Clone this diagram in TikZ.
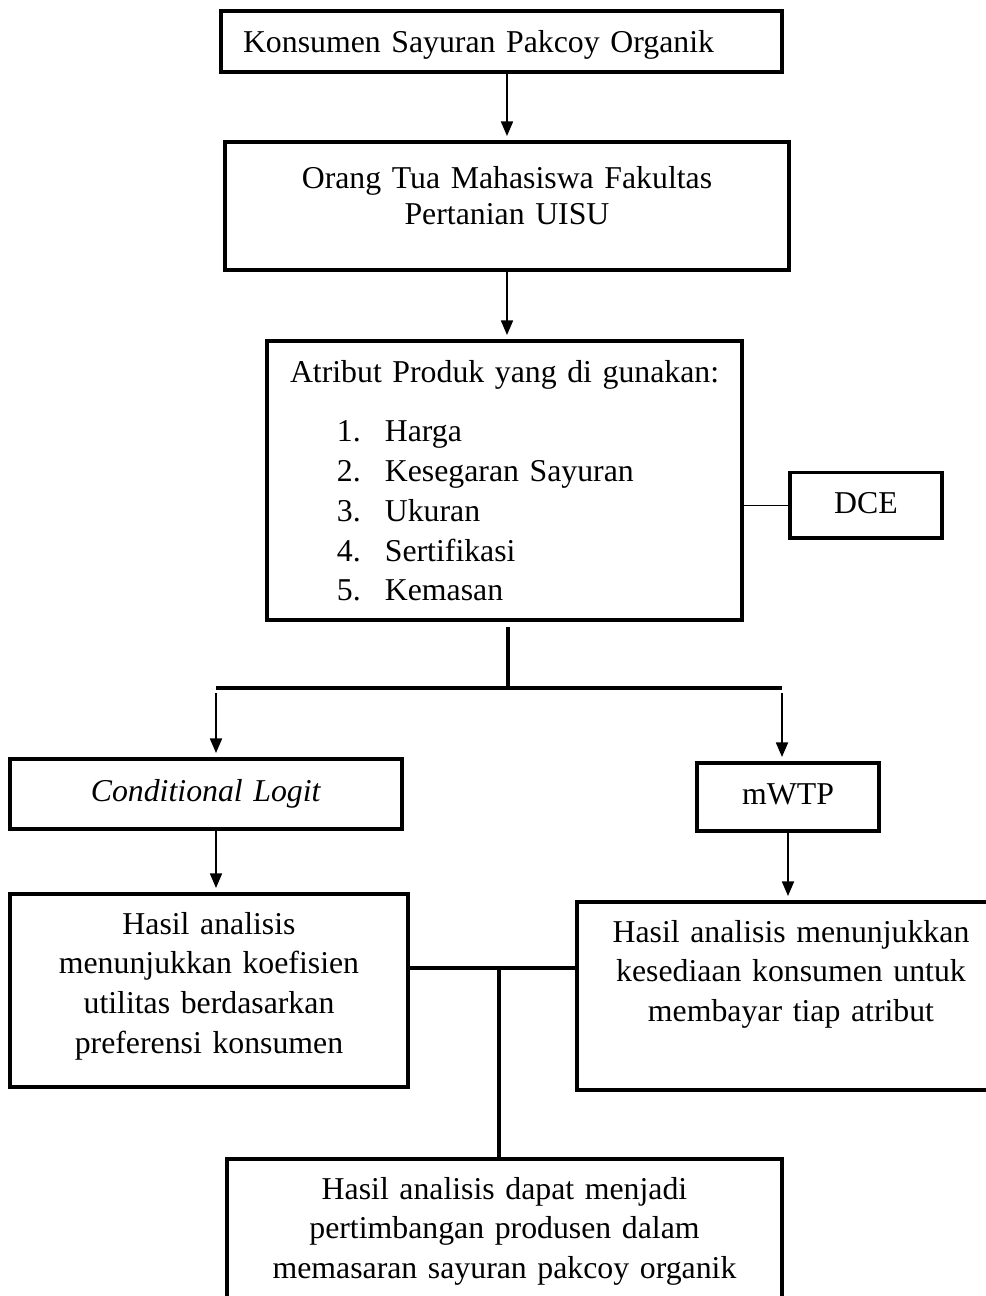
\documentclass[tikz,border=0pt]{standalone}
\usepackage{fontspec}
\setmainfont{Liberation Serif}
\usetikzlibrary{arrows.meta, positioning}

\newcommand{\attritem}[2]{\hspace*{17.7pt}\makebox[18.1pt][l]{#1.}#2}

\begin{document}
\begin{tikzpicture}[
  x=0.3774pt, y=-0.3774pt,
  font=\fontsize{12pt}{15pt}\selectfont,
  box/.style={draw, line width=1.5pt, inner sep=0pt, anchor=north, align=center},
  arr/.style={-{Triangle[length=5.5pt,width=4.5pt]}, line width=0.75pt, shorten >=1.5pt},
  trunk/.style={line width=1.25pt},
  link/.style={line width=0.5pt},
]
  \useasboundingbox (0,0) rectangle (986,1296);

  % Boxes (top part)
  \node[box, align=left, inner xsep=8.3pt, text width=195.1pt,
    text height=15.5pt, text depth=7.5pt] (konsumen) at (501.5, 9)
    {Konsumen Sayuran Pakcoy Organik};
  \node[box, font=\fontsize{12pt}{13.5pt}\selectfont, text width=212.9pt,
    text height=17.7pt, text depth=30.6pt] (ortu) at (507, 140)
    {Orang Tua Mahasiswa Fakultas\\Pertanian UISU};
  \node[box, align=left, inner xsep=8.7pt, text width=161.9pt,
    text height=15.5pt, text depth=89.8pt] (atribut) at (504.5, 339)
    {\mbox{Atribut Produk yang di gunakan:}\\[7.6pt]
     \attritem{1}{Harga}\\
     \attritem{2}{Kesegaran Sayuran}\\
     \attritem{3}{Ukuran}\\
     \attritem{4}{Sertifikasi}\\
     \attritem{5}{Kemasan}};
  \node[box, line width=1.3pt, text width=57.4pt,
    text height=15.5pt, text depth=9.1pt] (dce) at (866, 471) {DCE};

  % Methods
  \node[box, text width=147.9pt, text height=15.9pt, text depth=10.6pt]
    (logit) at (206, 757) {\textit{Conditional Logit}};
  \node[box, text width=68.7pt, text height=15.5pt, text depth=10.2pt]
    (mwtp) at (788, 761) {mWTP};

  % Results
  \node[box, text width=150.2pt, text height=15.1pt, text depth=57.7pt]
    (hasilL) at (209, 892)
    {Hasil analisis\\menunjukkan koefisien\\utilitas berdasarkan\\preferensi konsumen};
  \node[box, text width=161.5pt, text height=15.1pt, text depth=55.9pt]
    (hasilR) at (791, 900)
    {Hasil analisis menunjukkan\\kesediaan konsumen untuk\\membayar tiap atribut};
  \node[box, text width=209.5pt, text height=15.1pt, text depth=46.4pt]
    (saran) at (504.5, 1157)
    {Hasil analisis dapat menjadi\\pertimbangan produsen dalam\\memasaran sayuran pakcoy organik};

  % Branch points
  \coordinate (split) at (508, 688);
  \coordinate (splitL) at (216, 688);
  \coordinate (splitR) at (782, 688);
  \coordinate (join) at (499, 968);

  % Connectors
  \draw[arr] (konsumen.south -| ortu.north) -- (ortu.north);
  \draw[arr] (ortu.south) -- (ortu.south |- atribut.north);
  \draw[link] (atribut.east |- dce.west) -- (dce.west);
  \draw[trunk, line width=1.5pt, shorten <=2pt] (atribut.south -| split) -- (split);
  \draw[trunk] (splitL) -- (splitR);
  \draw[arr, shorten <=2pt] (splitL) -- (splitL |- logit.north);
  \draw[arr, shorten <=2pt] (splitR) -- (splitR |- mwtp.north);
  \draw[arr] (logit.south -| splitL) -- (splitL |- hasilL.north);
  \draw[arr] (mwtp.south) -- (mwtp.south |- hasilR.north);
  \draw[trunk] (hasilL.east |- join) -- (hasilR.west |- join);
  \draw[trunk] (join) -- (join |- saran.north);

\end{tikzpicture}
\end{document}
